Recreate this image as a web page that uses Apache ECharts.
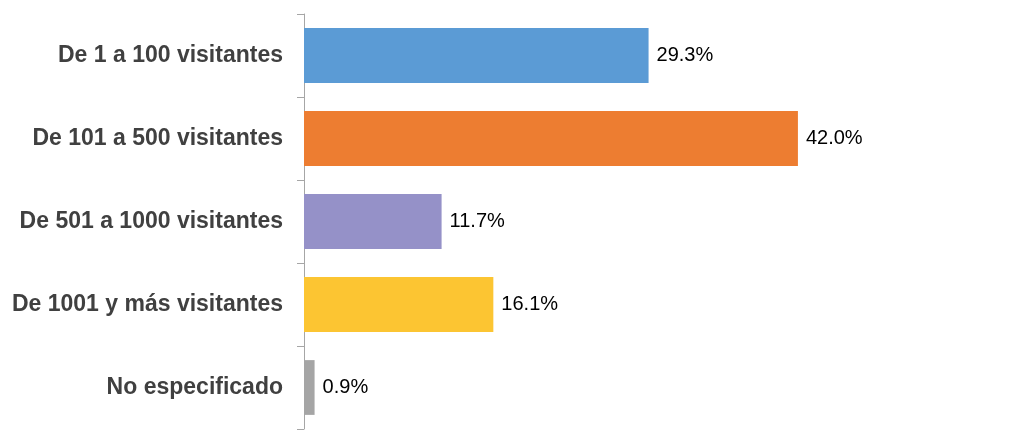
<!DOCTYPE html>
<html>
<head>
<meta charset="utf-8">
<script src="https://cdn.jsdelivr.net/npm/echarts@6/dist/echarts.min.js"></script>
<style>html,body{margin:0;padding:0;background:#fff}#c{width:1024px;height:444px}</style>
</head>
<body>
<div id="c"></div>
<script>
const categories = ["De 1 a 100 visitantes", "De 101 a 500 visitantes", "De 501 a 1000 visitantes", "De 1001 y más visitantes", "No especificado"];
const values = [29.3, 42.0, 11.7, 16.1, 0.9];
const colors = ["#5B9BD5", "#ED7D31", "#9591C8", "#FCC532", "#A5A5A5"];

const chart = echarts.init(document.getElementById('c'), null, {renderer: 'canvas'});
chart.setOption({
  animation: false,
  grid: {left: 304, right: 132, top: 14, bottom: 15, containLabel: false},
  xAxis: {type: 'value', min: 0, max: 50, show: false},
  yAxis: {
    type: 'category',
    data: categories,
    inverse: true,
    axisLine: {show: true, lineStyle: {color: '#A6A6A6', width: 1}},
    axisTick: {show: true, length: 7, lineStyle: {color: '#A6A6A6'}},
    axisLabel: {margin: 21, color: '#404040', fontFamily: 'Liberation Sans, Arial, sans-serif', fontWeight: 'bold', fontSize: 23, padding: [3, 0, 0, 0]}
  },
  series: [{
    type: 'bar',
    barCategoryGap: '34%',
    data: values.map((v, i) => ({value: v, itemStyle: {color: colors[i]}})),
    label: {show: true, position: 'right', distance: 8, formatter: p => p.value.toFixed(1) + '%', color: '#000', fontFamily: 'Liberation Sans, Arial, sans-serif', fontSize: 20, padding: [3, 0, 0, 0]}
  }]
});
</script>
</body>
</html>
